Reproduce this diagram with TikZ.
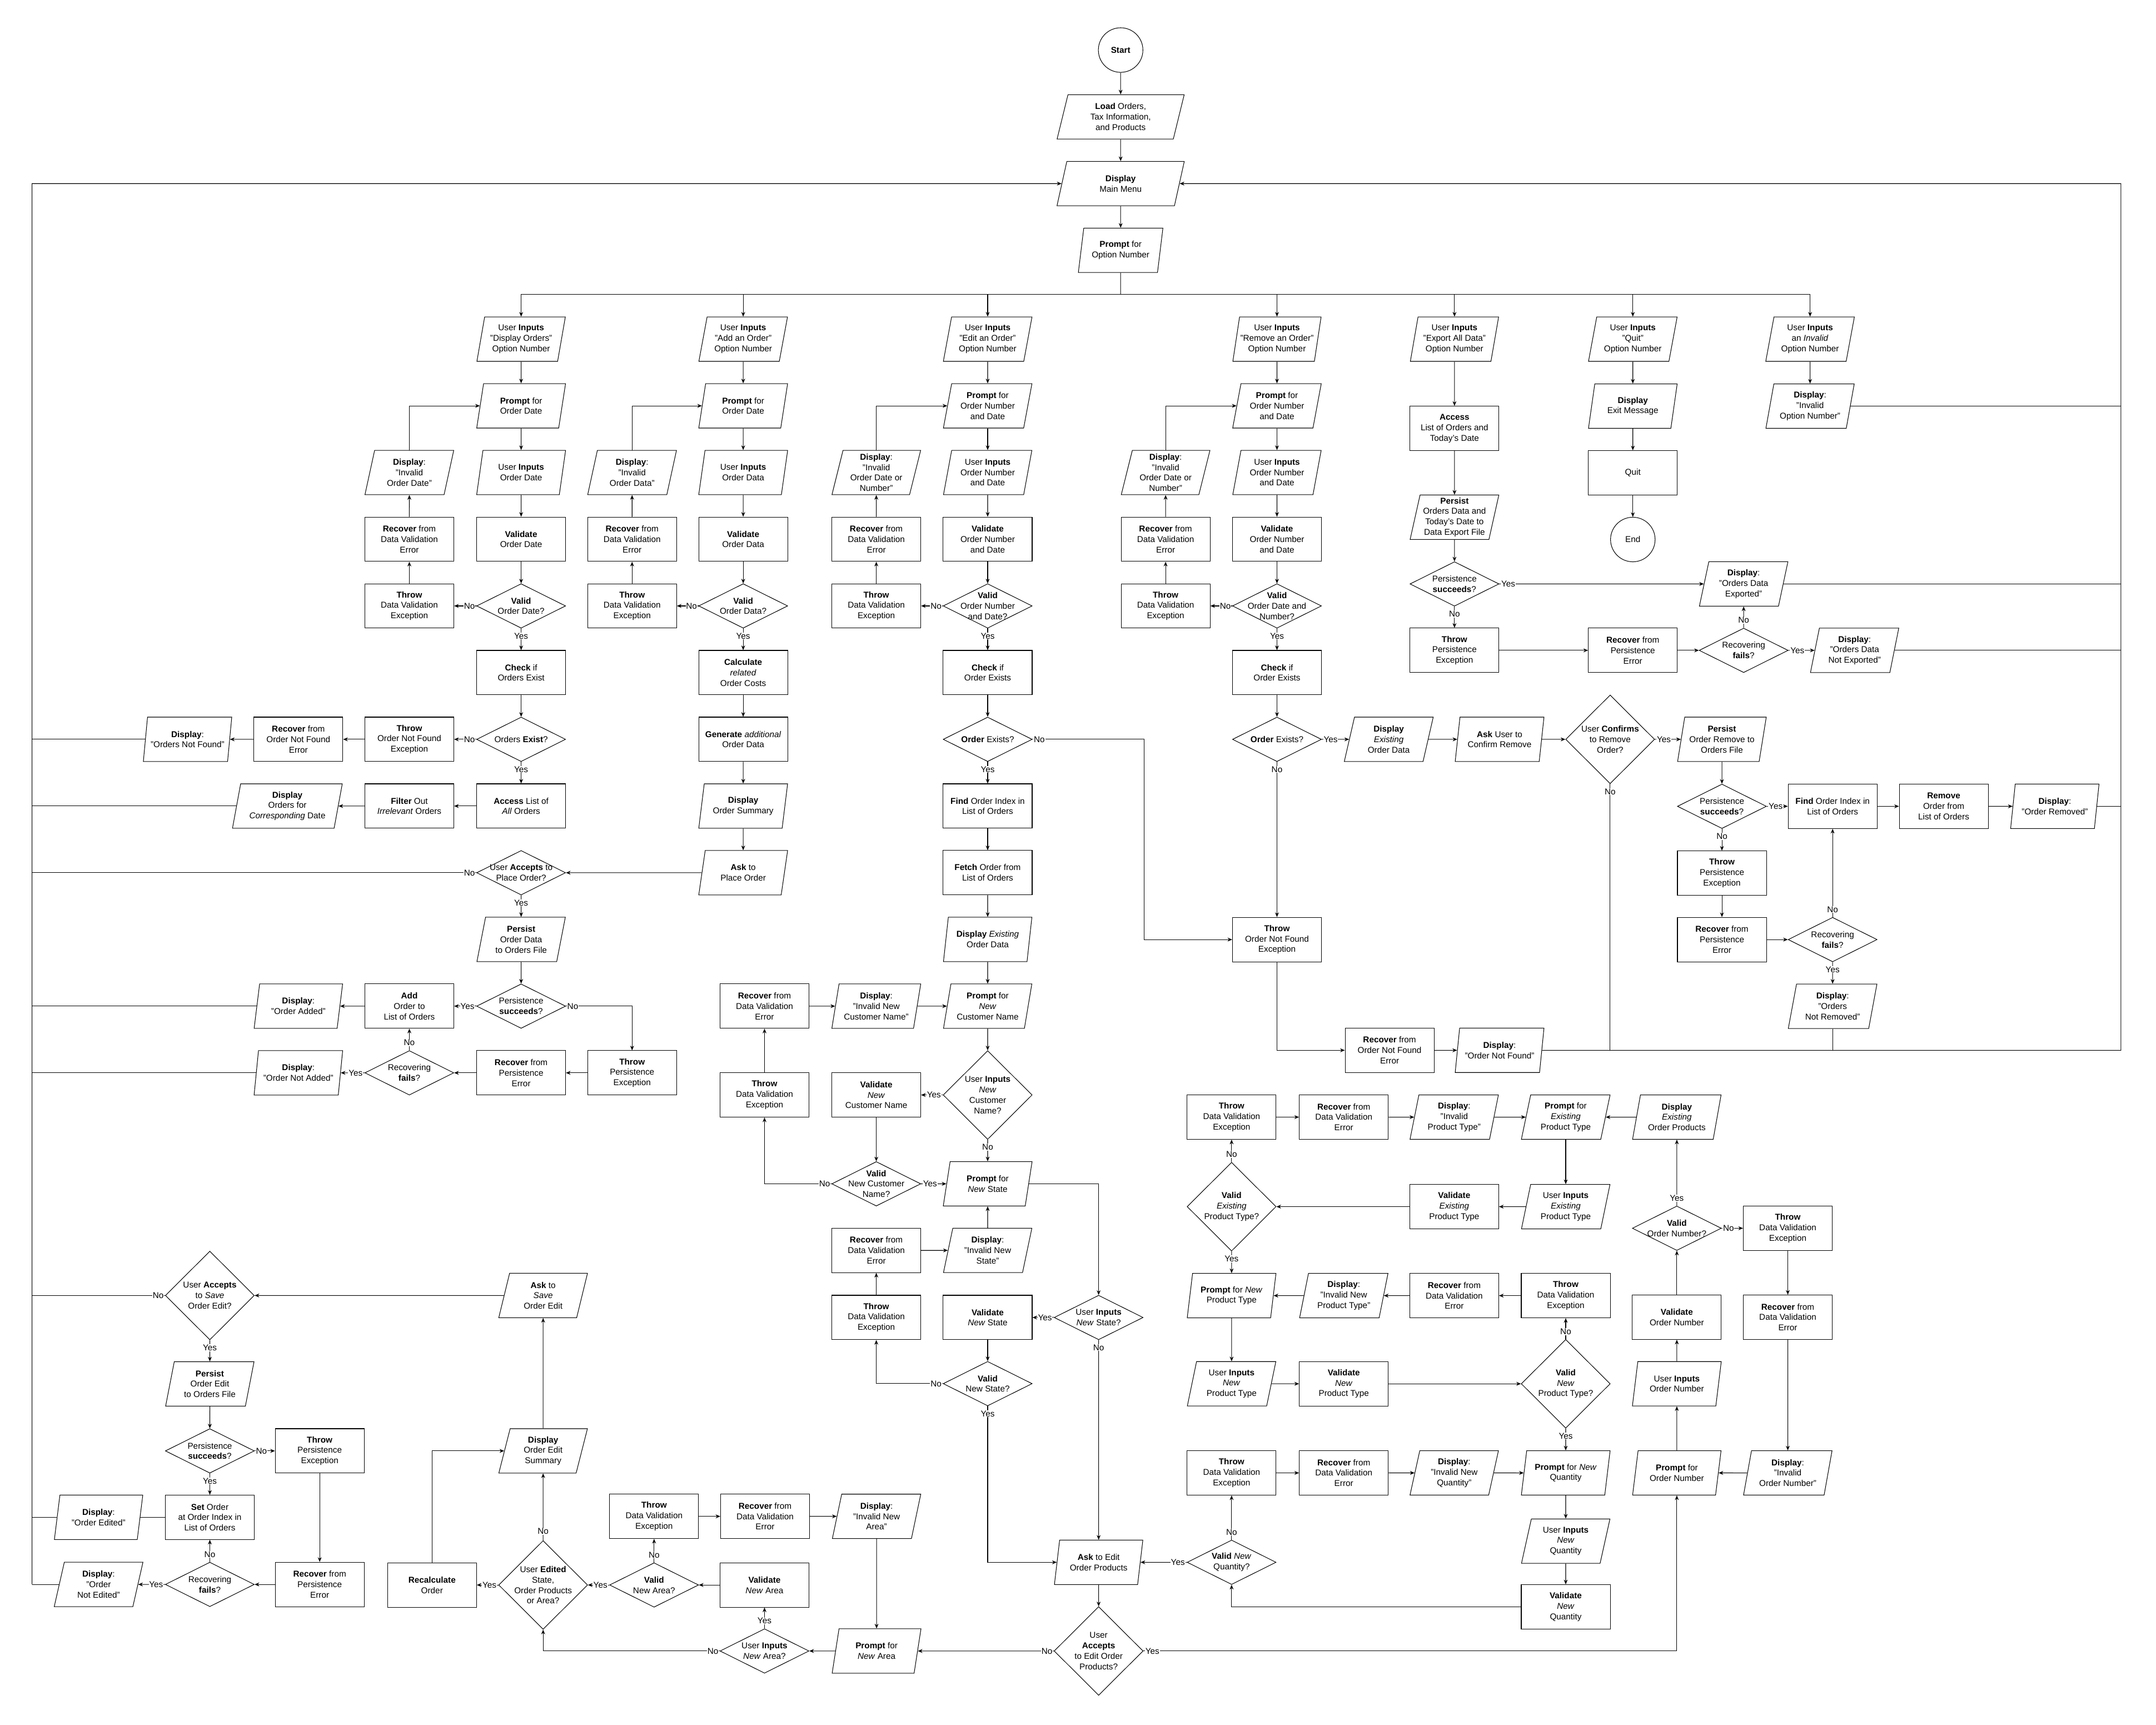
\documentclass[tikz,border=0pt]{standalone}
\usepackage{fontspec}
\setmainfont{Liberation Sans}
\usetikzlibrary{shapes.geometric,arrows.meta,calc}
\newcommand{\mylab}[4]{\node[lbl] (#1) at ($(#2)+(#3)$) {#4};}
\begin{document}
\begin{tikzpicture}[x=0.5mm,y=-0.5mm,
  every node/.style={font=\fontsize{8.8}{10.8}\selectfont, align=center},
  box/.style={rectangle, draw, line width=0.6pt, minimum width=32.35mm, minimum height=16.15mm, inner sep=0pt},
  para/.style={trapezium, trapezium left angle=77, trapezium right angle=103, trapezium stretches=true, draw, line width=0.6pt, minimum width=32.35mm, minimum height=16.15mm, inner sep=0pt},
  dia/.style={diamond, draw, line width=0.6pt, minimum width=32.35mm, minimum height=16.15mm, inner sep=0pt},
  tdia/.style={dia, minimum height=32.25mm},
  term/.style={circle, draw, line width=0.6pt, minimum size=16.2mm, inner sep=0pt},
  ln/.style={line width=0.6pt},
  arr/.style={line width=0.6pt, -{Stealth[length=1.7mm,width=1.4mm]}},
  lbl/.style={fill=white, inner sep=0.5pt},
]
\path[fill=white, use as bounding box] (0,0) rectangle (1568,1254);

% ---------- top ----------
\node[term] (start) at (815,36.4) {\textbf{Start}};
\node[para, minimum width=46.35mm] (load) at (815,85) {\textbf{Load} Orders,\\Tax Information,\\and Products};
\node[para, minimum width=46.35mm] (menu) at (815,133.5) {\textbf{Display}\\Main Menu};
\node[para, minimum width=30.8mm] (prompt) at (815,182) {\textbf{Prompt} for\\Option Number};
\coordinate (bus) at (815,214);
\coordinate (loopL) at (23.3,133.5);
\coordinate (loopR) at (1542.5,133.5);
\coordinate (eNo) at (831.9,537.6);

% ---------- row 0 ----------
\node[para] (d0) at (379,246.6) {User \textbf{Inputs}\\"Display Orders"\\Option Number};
\node[para] (a0) at (540.5,246.6) {User \textbf{Inputs}\\"Add an Order"\\Option Number};
\node[para] (e0) at (718.3,246.6) {User \textbf{Inputs}\\"Edit an Order"\\Option Number};
\node[para] (r0) at (928.7,246.6) {User \textbf{Inputs}\\"Remove an Order"\\Option Number};
\node[para] (x0) at (1057.8,246.6) {User \textbf{Inputs}\\"Export All Data"\\Option Number};
\node[para] (q0) at (1187.5,246.6) {User \textbf{Inputs}\\"Quit"\\Option Number};
\node[para] (i0) at (1316.4,246.6) {User \textbf{Inputs}\\an \textit{Invalid}\\Option Number};

% ---------- display orders ----------
\node[para] (d1) at (379,295.1) {\textbf{Prompt} for\\Order Date};
\node[para] (d2) at (379,343.6) {User \textbf{Inputs}\\Order Date};
\node[box] (d3) at (379,392.1) {\textbf{Validate}\\Order Date};
\node[dia, label={center:{\textbf{Valid}\\Order Date?}}] (d4) at (379,440.6) {};
\node[box] (d5) at (379,489.1) {\textbf{Check} if\\Orders Exist};
\node[dia, label={center:{Orders \textbf{Exist}?}}] (d6) at (379,537.6) {};
\node[box] (d7) at (379,586.1) {\textbf{Access} List of\\\textit{All} Orders};
\node[box] (d4t) at (297.7,440.6) {\textbf{Throw}\\Data Validation\\Exception};
\node[box] (d3r) at (297.7,392.1) {\textbf{Recover} from\\Data Validation\\Error};
\node[para] (d2d) at (297.7,343.6) {\textbf{Display}:\\"Invalid\\Order Date"};
\node[box] (d6t) at (297.7,537.6) {\textbf{Throw}\\Order Not Found\\Exception};
\node[box] (d6r) at (217,537.6) {\textbf{Recover} from\\Order Not Found\\Error};
\node[para] (d6d) at (136.4,537.6) {\textbf{Display}:\\"Orders Not Found"};
\node[box] (d7f) at (297.7,586.1) {\textbf{Filter} Out\\\textit{Irrelevant} Orders};
\node[para, minimum width=40mm] (d7d) at (209,586.1) {\textbf{Display}\\Orders for\\\textit{Corresponding} Date};

% ---------- add order ----------
\node[para] (a1) at (540.5,295.1) {\textbf{Prompt} for\\Order Date};
\node[para] (a2) at (540.5,343.6) {User \textbf{Inputs}\\Order Data};
\node[box] (a3) at (540.5,392.1) {\textbf{Validate}\\Order Data};
\node[dia, label={center:{\textbf{Valid}\\Order Data?}}] (a4) at (540.5,440.6) {};
\node[box] (a5) at (540.5,489.1) {\textbf{Calculate}\\\textit{related}\\Order Costs};
\node[box] (a6) at (540.5,537.6) {\textbf{Generate} \textit{additional}\\Order Data};
\node[para] (a7) at (540.5,586.1) {\textbf{Display}\\Order Summary};
\node[para] (a8) at (540.5,634.6) {\textbf{Ask} to\\Place Order};
\node[box] (a4t) at (459.7,440.6) {\textbf{Throw}\\Data Validation\\Exception};
\node[box] (a3r) at (459.7,392.1) {\textbf{Recover} from\\Data Validation\\Error};
\node[para] (a2d) at (459.7,343.6) {\textbf{Display}:\\"Invalid\\Order Data"};
\node[dia, label={center:{User \textbf{Accepts} to\\Place Order?}}] (a8d) at (379,634.6) {};
\node[para] (a9) at (379,683.1) {\textbf{Persist}\\Order Data\\to Orders File};
\node[dia, label={center:{Persistence\\\textbf{succeeds}?}}] (a10) at (379,731.6) {};
\node[box] (a10y) at (297.7,731.6) {\textbf{Add}\\Order to\\List of Orders};
\node[para] (a10yd) at (217,731.6) {\textbf{Display}:\\"Order Added"};
\node[box] (a10t) at (459.7,780.1) {\textbf{Throw}\\Persistence\\Exception};
\node[box] (a11r) at (379,780.1) {\textbf{Recover} from\\Persistence\\Error};
\node[dia, label={center:{Recovering\\\textbf{fails}?}}] (a11f) at (297.7,780.1) {};
\node[para] (a11d) at (217,780.1) {\textbf{Display}:\\"Order Not Added"};

% ---------- edit order ----------
\node[para] (e1) at (718.3,295.1) {\textbf{Prompt} for\\Order Number\\and Date};
\node[para] (e2) at (718.3,343.6) {User \textbf{Inputs}\\Order Number\\and Date};
\node[box] (e3) at (718.3,392.1) {\textbf{Validate}\\Order Number\\and Date};
\node[dia, label={center:{\textbf{Valid}\\Order Number\\and Date?}}] (e4) at (718.3,440.6) {};
\node[box] (e4t) at (637.3,440.6) {\textbf{Throw}\\Data Validation\\Exception};
\node[box] (e3r) at (637.3,392.1) {\textbf{Recover} from\\Data Validation\\Error};
\node[para] (e2d) at (637.3,343.6) {\textbf{Display}:\\"Invalid\\Order Date or\\Number"};
\node[box] (e5) at (718.3,489.1) {\textbf{Check} if\\Order Exists};
\node[dia, label={center:{\textbf{Order} Exists?}}] (e6) at (718.3,537.6) {};
\node[box] (e7) at (718.3,586.1) {\textbf{Find} Order Index in\\List of Orders};
\node[box] (e8) at (718.3,634.6) {\textbf{Fetch} Order from\\List of Orders};
\node[para] (e9) at (718.3,683.1) {\textbf{Display} \textit{Existing}\\Order Data};
\node[para] (e10) at (718.3,731.6) {\textbf{Prompt} for\\\textit{New}\\Customer Name};
\node[tdia, label={center:{User \textbf{Inputs}\\\textit{New}\\Customer\\Name?}}] (e11) at (718.3,796.2) {};
\node[box] (e12) at (637.3,796.2) {\textbf{Validate}\\\textit{New}\\Customer Name};
\node[box] (e12t) at (556,796.2) {\textbf{Throw}\\Data Validation\\Exception};
\node[box] (e12r) at (556,731.6) {\textbf{Recover} from\\Data Validation\\Error};
\node[para] (e12d) at (637.3,731.6) {\textbf{Display}:\\"Invalid New\\Customer Name"};
\node[dia, label={center:{\textbf{Valid}\\New Customer\\Name?}}] (e13) at (637.3,860.8) {};
\node[para] (e14) at (718.3,860.8) {\textbf{Prompt} for\\\textit{New} State};
\node[para] (e14d) at (718.3,909.2) {\textbf{Display}:\\"Invalid New\\State"};
\node[box] (e14r) at (637.3,909.2) {\textbf{Recover} from\\Data Validation\\Error};
\node[box] (e14t) at (637.3,958) {\textbf{Throw}\\Data Validation\\Exception};
\node[box] (e15) at (718.3,958) {\textbf{Validate}\\\textit{New} State};
\node[dia, label={center:{User \textbf{Inputs}\\\textit{New} State?}}] (e16) at (799,958) {};
\node[dia, label={center:{\textbf{Valid}\\New State?}}] (e17) at (718.3,1006.1) {};
\node[para] (e18) at (799,1136) {\textbf{Ask} to Edit\\Order Products};
\node[tdia, label={center:{User\\\textbf{Accepts}\\to Edit Order\\Products?}}] (e19) at (799,1200.5) {};
\node[para] (e20) at (637.5,1200.5) {\textbf{Prompt} for\\\textit{New} Area};
\node[dia, label={center:{User \textbf{Inputs}\\\textit{New} Area?}}] (e21) at (556,1200.5) {};
\node[box] (e22) at (556,1152.5) {\textbf{Validate}\\\textit{New} Area};
\node[dia, label={center:{\textbf{Valid}\\New Area?}}] (e23) at (475.7,1152.5) {};
\node[box] (e23t) at (475.7,1102.6) {\textbf{Throw}\\Data Validation\\Exception};
\node[box] (e23r) at (556.4,1102.6) {\textbf{Recover} from\\Data Validation\\Error};
\node[para] (e23d) at (637.5,1102.6) {\textbf{Display}:\\"Invalid New\\Area"};
\node[tdia, label={center:{User \textbf{Edited}\\State,\\Order Products\\or Area?}}] (e24) at (395,1152.5) {};
\node[box] (e25) at (314.2,1152.5) {\textbf{Recalculate}\\Order};
\node[para] (e26) at (395,1055) {\textbf{Display}\\Order Edit\\Summary};
\node[para] (e27) at (395,942) {\textbf{Ask} to\\\textit{Save}\\Order Edit};
\node[tdia, label={center:{User \textbf{Accepts}\\to \textit{Save}\\Order Edit?}}] (e28) at (152.6,942) {};
\node[para] (e29) at (152.6,1006.3) {\textbf{Persist}\\Order Edit\\to Orders File};
\node[dia, label={center:{Persistence\\\textbf{succeeds}?}}] (e30) at (152.6,1055) {};
\node[box] (e30t) at (232.5,1055) {\textbf{Throw}\\Persistence\\Exception};
\node[box] (e31) at (152.6,1103.3) {\textbf{Set} Order\\at Order Index in\\List of Orders};
\node[para] (e31d) at (71.7,1103.3) {\textbf{Display}:\\"Order Edited"};
\node[dia, label={center:{Recovering\\\textbf{fails}?}}] (e32) at (152.6,1152.1) {};
\node[para] (e32d) at (71.7,1152.1) {\textbf{Display}:\\"Order\\Not Edited"};
\node[box] (e32r) at (232.5,1152.1) {\textbf{Recover} from\\Persistence\\Error};

% ---------- remove order ----------
\node[para] (r1) at (928.7,295.1) {\textbf{Prompt} for\\Order Number\\and Date};
\node[para] (r2) at (928.7,343.6) {User \textbf{Inputs}\\Order Number\\and Date};
\node[box] (r3) at (928.7,392.1) {\textbf{Validate}\\Order Number\\and Date};
\node[dia, label={center:{\textbf{Valid}\\Order Date and\\Number?}}] (r4) at (928.7,440.6) {};
\node[box] (r4t) at (847.7,440.6) {\textbf{Throw}\\Data Validation\\Exception};
\node[box] (r3r) at (847.7,392.1) {\textbf{Recover} from\\Data Validation\\Error};
\node[para] (r2d) at (847.7,343.6) {\textbf{Display}:\\"Invalid\\Order Date or\\Number"};
\node[box] (r5) at (928.7,489.1) {\textbf{Check} if\\Order Exists};
\node[dia, label={center:{\textbf{Order} Exists?}}] (r6) at (928.7,537.6) {};
\node[para] (r6d) at (1010,537.6) {\textbf{Display}\\\textit{Existing}\\Order Data};
\node[para] (r7) at (1090.6,537.6) {\textbf{Ask} User to\\Confirm Remove};
\node[tdia, label={center:{User \textbf{Confirms}\\to Remove\\Order?}}] (r8) at (1171,537.6) {};
\node[para] (r9) at (1252.3,537.6) {\textbf{Persist}\\Order Remove to\\Orders File};
\node[dia, label={center:{Persistence\\\textbf{succeeds}?}}] (r10) at (1252.3,586.3) {};
\node[box] (r11) at (1332.8,586.3) {\textbf{Find} Order Index in\\List of Orders};
\node[box] (r12) at (1413.6,586.3) {\textbf{Remove}\\Order from\\List of Orders};
\node[para] (r13) at (1494.4,586.3) {\textbf{Display}:\\"Order Removed"};
\node[box] (r10t) at (1252.3,634.9) {\textbf{Throw}\\Persistence\\Exception};
\node[box] (r10r) at (1252.3,683.2) {\textbf{Recover} from\\Persistence\\Error};
\node[dia, label={center:{Recovering\\\textbf{fails}?}}] (r10f) at (1332.8,683.2) {};
\node[para] (r10d) at (1332.8,731.7) {\textbf{Display}:\\"Orders\\Not Removed"};
\node[box] (r14) at (928.7,683.2) {\textbf{Throw}\\Order Not Found\\Exception};
\node[box] (r15) at (1010.6,763.7) {\textbf{Recover} from\\Order Not Found\\Error};
\node[para] (r16) at (1090.6,763.7) {\textbf{Display}:\\"Order Not Found"};

% ---------- export ----------
\node[box] (x1) at (1057.8,311.5) {\textbf{Access}\\List of Orders and\\Today's Date};
\node[para] (x2) at (1057.8,376.1) {\textbf{Persist}\\Orders Data and\\Today's Date to\\Data Export File};
\node[dia, label={center:{Persistence\\\textbf{succeeds}?}}] (x3) at (1057.8,424.6) {};
\node[para] (x3d) at (1268.1,424.6) {\textbf{Display}:\\"Orders Data\\Exported"};
\node[box] (x3t) at (1057.8,472.9) {\textbf{Throw}\\Persistence\\Exception};
\node[box] (x3r) at (1187.5,472.9) {\textbf{Recover} from\\Persistence\\Error};
\node[dia, label={center:{Recovering\\\textbf{fails}?}}] (x3f) at (1268.1,472.9) {};
\node[para] (x3n) at (1348.8,472.9) {\textbf{Display}:\\"Orders Data\\Not Exported"};

% ---------- quit / invalid ----------
\node[para] (q1) at (1187.5,295.3) {\textbf{Display}\\Exit Message};
\node[box] (q2) at (1187.5,343.8) {Quit};
\node[term] (q3) at (1187.5,392.3) {End};
\node[para] (i1) at (1316.4,295.3) {\textbf{Display}:\\"Invalid\\Option Number"};

% ---------- products ----------
\node[para] (p1) at (1219.5,1071) {\textbf{Prompt} for\\Order Number};
\node[para] (p2) at (1219.5,1006.2) {User \textbf{Inputs}\\Order Number};
\node[box] (p3) at (1219.5,957.8) {\textbf{Validate}\\Order Number};
\node[dia, label={center:{\textbf{Valid}\\Order Number?}}] (p4) at (1219.5,893.1) {};
\node[box] (p4t) at (1300.2,893.1) {\textbf{Throw}\\Data Validation\\Exception};
\node[box] (p4r) at (1300.2,957.8) {\textbf{Recover} from\\Data Validation\\Error};
\node[para] (p4d) at (1300.2,1071) {\textbf{Display}:\\"Invalid\\Order Number"};
\node[para] (p5) at (1219.5,812.3) {\textbf{Display}\\\textit{Existing}\\Order Products};
\node[para] (p6) at (1138.7,812.3) {\textbf{Prompt} for\\\textit{Existing}\\Product Type};
\node[para] (p7) at (1138.7,877.4) {User \textbf{Inputs}\\\textit{Existing}\\Product Type};
\node[box] (p8) at (1057.6,877.4) {\textbf{Validate}\\\textit{Existing}\\Product Type};
\node[tdia, label={center:{\textbf{Valid}\\\textit{Existing}\\Product Type?}}] (p9) at (895.7,877.4) {};
\node[box] (p9t) at (895.7,812.3) {\textbf{Throw}\\Data Validation\\Exception};
\node[box] (p9r) at (977.3,812.3) {\textbf{Recover} from\\Data Validation\\Error};
\node[para] (p9d) at (1057.6,812.3) {\textbf{Display}:\\"Invalid\\Product Type"};
\node[para] (p10) at (895.7,942.1) {\textbf{Prompt} for \textit{New}\\Product Type};
\node[para] (p11) at (895.7,1006.2) {User \textbf{Inputs}\\\textit{New}\\Product Type};
\node[box] (p12) at (977.3,1006.2) {\textbf{Validate}\\\textit{New}\\Product Type};
\node[tdia, label={center:{\textbf{Valid}\\\textit{New}\\Product Type?}}] (p13) at (1138.7,1006.2) {};
\node[box] (p13t) at (1138.7,942.1) {\textbf{Throw}\\Data Validation\\Exception};
\node[box] (p13r) at (1057.6,942.1) {\textbf{Recover} from\\Data Validation\\Error};
\node[para] (p13d) at (977.3,942.1) {\textbf{Display}:\\"Invalid New\\Product Type"};
\node[para] (p14) at (1138.7,1071) {\textbf{Prompt} for \textit{New}\\Quantity};
\node[para] (p15) at (1138.7,1120.6) {User \textbf{Inputs}\\\textit{New}\\Quantity};
\node[box] (p16) at (1138.7,1168.4) {\textbf{Validate}\\\textit{New}\\Quantity};
\node[dia, label={center:{\textbf{Valid} \textit{New}\\Quantity?}}] (p17) at (895.7,1136) {};
\node[box] (p17t) at (895.7,1071) {\textbf{Throw}\\Data Validation\\Exception};
\node[box] (p17r) at (977.3,1071) {\textbf{Recover} from\\Data Validation\\Error};
\node[para] (p17d) at (1057.6,1071) {\textbf{Display}:\\"Invalid New\\Quantity"};

% ---------- connectors ----------
\draw[arr] (start.south) -- (load.north);
\draw[arr] (load.south) -- (menu.north);
\draw[arr] (menu.south) -- (prompt.north);
\draw[ln] (prompt.south) -- (bus);
\draw[ln] (d0.north |- bus) -- (i0.north |- bus);
\foreach \n in {d0,a0,e0,r0,x0,q0,i0} {\draw[arr] (\n.north |- bus) -- (\n.north);}

\foreach \a/\b in {d0/d1,d1/d2,d2/d3,d3/d4,d4/d5,d5/d6,d6/d7,
  a0/a1,a1/a2,a2/a3,a3/a4,a4/a5,a5/a6,a6/a7,a7/a8,a8d/a9,a9/a10,
  e0/e1,e1/e2,e2/e3,e3/e4,e4/e5,e5/e6,e6/e7,e7/e8,e8/e9,e9/e10,e10/e11,e11/e14,e12/e13,
  e15/e17,e16/e18,e18/e19,e23d/e20,e28/e29,e29/e30,e30/e31,e30t/e32r,
  r0/r1,r1/r2,r2/r3,r3/r4,r4/r5,r5/r6,r6/r14,r9/r10,r10/r10t,r10t/r10r,r10f/r10d,
  x0/x1,x1/x2,x2/x3,x3/x3t,q0/q1,q1/q2,q2/q3,i0/i1,
  p6/p7,p9/p10,p10/p11,p13/p14,p14/p15,p15/p16,p4t/p4r,p4r/p4d}
  {\draw[arr] (\a.south) -- (\b.north);}

\foreach \a/\b in {d4t/d3r,d3r/d2d,a4t/a3r,a3r/a2d,e4t/e3r,e3r/e2d,r4t/r3r,r3r/r2d,
  a11f/a10y,e12t/e12r,e14t/e14r,e14d/e14,e21/e22,e23/e23t,e24/e26,e26/e27,e32/e31,
  r10f/r11,x3f/x3d,p1/p2,p2/p3,p3/p4,p4/p5,p9/p9t,p13/p13t,p17/p17t}
  {\draw[arr] (\a.north) -- (\b.south);}

\foreach \a/\b in {d4/d4t,d6/d6t,d6t/d6r,d6r/d6d,d7/d7f,d7f/d7d,
  a4/a4t,a8/a8d,a10/a10y,a10y/a10yd,a10t/a11r,a11r/a11f,a11f/a11d,
  e4/e4t,e11/e12,e16/e15,e19/e20,e20/e21,e22/e23,e23/e24,e24/e25,e27/e28,e32r/e32,e32/e32d,
  r4/r4t,p7/p8,p8/p9,p5/p6,p4d/p1,p13t/p13r,p13r/p13d,p13d/p10,p17/e18}
  {\draw[arr] (\a.west) -- (\b.east);}

\foreach \a/\b in {e12r/e12d,e12d/e10,e13/e14,e14r/e14d,e23t/e23r,e23r/e23d,e30/e30t,
  r6/r6d,r6d/r7,r7/r8,r8/r9,r10/r11,r11/r12,r12/r13,r10r/r10f,r15/r16,
  x3/x3d,x3t/x3r,x3r/x3f,x3f/x3n,
  p4/p4t,p9t/p9r,p9r/p9d,p9d/p6,p11/p12,p12/p13,p17t/p17r,p17r/p17d,p17d/p14}
  {\draw[arr] (\a.east) -- (\b.west);}

\draw[ln] (e31.west) -- (e31d.east);
\draw[arr] (d2d.north) |- (d1.west);
\draw[arr] (a2d.north) |- (a1.west);
\draw[arr] (e2d.north) |- (e1.west);
\draw[arr] (r2d.north) |- (r1.west);
\draw[arr] (a10.east) -| (a10t.north);
\draw[arr] (e6.east) -- (eNo) |- (r14.west);
\draw[arr] (e13.west) -| (e12t.south);
\draw[arr] (e14.east) -| (e16.north);
\draw[arr] (e17.west) -| (e14t.south);
\draw[arr] (e17.south) |- (e18.west);
\draw[arr] (e19.east) -| (p1.south);
\draw[arr] (e21.west) -| (e24.south);
\draw[arr] (e25.north) |- (e26.west);
\draw[arr] (r14.south) |- (r15.west);
\draw[arr] (p16.west) -| (p17.south);

% loops
\draw[ln] (d6d.west) -- (d6d.west -| loopL);
\draw[ln] (d7d.west) -- (d7d.west -| loopL);
\draw[ln] (a8d.west) -- (a8d.west -| loopL);
\draw[ln] (a10yd.west) -- (a10yd.west -| loopL);
\draw[ln] (a11d.west) -- (a11d.west -| loopL);
\draw[ln] (e28.west) -- (e28.west -| loopL);
\draw[ln] (e31d.west) -- (e31d.west -| loopL);
\draw[ln] (e32d.west) -- (e32d.west -| loopL);
\draw[arr] (e32d.west -| loopL) -- (loopL) -- (menu.west);
\draw[ln] (i1.east) -- (i1.east -| loopR);
\draw[ln] (x3d.east) -- (x3d.east -| loopR);
\draw[ln] (x3n.east) -- (x3n.east -| loopR);
\draw[ln] (r13.east) -- (r13.east -| loopR);
\draw[ln] (r8.south) -- (r8.south |- r16.east);
\draw[ln] (r10d.south) -- (r10d.south |- r16.east);
\draw[arr] (r16.east) -- (r16.east -| loopR) -- (loopR) -- (menu.east);

% ---------- labels ----------
\mylab{l1}{d4.west}{-5,0}{No}
\mylab{l2}{d4.south}{0,5.5}{Yes}
\mylab{l3}{d6.west}{-5,0}{No}
\mylab{l4}{d6.south}{0,5.5}{Yes}
\mylab{l5}{a4.west}{-5,0}{No}
\mylab{l6}{a4.south}{0,5.5}{Yes}
\mylab{l7}{a8d.west}{-5,0}{No}
\mylab{l8}{a8d.south}{0,5.5}{Yes}
\mylab{l9}{a10.west}{-6.5,0}{Yes}
\mylab{l10}{a10.east}{5,0}{No}
\mylab{l11}{a11f.north}{0,-5.5}{No}
\mylab{l12}{a11f.west}{-6.5,0}{Yes}
\mylab{l13}{e4.west}{-5,0}{No}
\mylab{l14}{e4.south}{0,5.5}{Yes}
\mylab{l15}{e6.east}{5,0}{No}
\mylab{l16}{e6.south}{0,5.5}{Yes}
\mylab{l17}{e11.west}{-6.5,0}{Yes}
\mylab{l18}{e11.south}{0,5.5}{No}
\mylab{l19}{e13.west}{-5,0}{No}
\mylab{l20}{e13.east}{6.5,0}{Yes}
\mylab{l21}{e16.west}{-6.5,0}{Yes}
\mylab{l22}{e16.south}{0,5.5}{No}
\mylab{l23}{e17.west}{-5,0}{No}
\mylab{l24}{e17.south}{0,5.5}{Yes}
\mylab{l25}{e19.east}{6.5,0}{Yes}
\mylab{l26}{e19.west}{-5,0}{No}
\mylab{l27}{e21.north}{0,-5.5}{Yes}
\mylab{l28}{e21.west}{-5,0}{No}
\mylab{l29}{e23.west}{-6.5,0}{Yes}
\mylab{l30}{e23.north}{0,-5.5}{No}
\mylab{l31}{e24.west}{-6.5,0}{Yes}
\mylab{l32}{e24.north}{0,-6.5}{No}
\mylab{l33}{e28.west}{-5,0}{No}
\mylab{l34}{e28.south}{0,5.5}{Yes}
\mylab{l35}{e30.east}{5,0}{No}
\mylab{l36}{e30.south}{0,5.5}{Yes}
\mylab{l37}{e32.north}{0,-5.5}{No}
\mylab{l38}{e32.west}{-6.5,0}{Yes}
\mylab{l39}{r4.west}{-5,0}{No}
\mylab{l40}{r4.south}{0,5.5}{Yes}
\mylab{l41}{r6.east}{6.5,0}{Yes}
\mylab{l42}{r6.south}{0,5.5}{No}
\mylab{l43}{r8.east}{6.5,0}{Yes}
\mylab{l44}{r8.south}{0,5.5}{No}
\mylab{l45}{r10.east}{6.5,0}{Yes}
\mylab{l46}{r10.south}{0,5.5}{No}
\mylab{l47}{r10f.north}{0,-5.5}{No}
\mylab{l48}{r10f.south}{0,5.5}{Yes}
\mylab{l49}{x3.east}{6.5,0}{Yes}
\mylab{l50}{x3.south}{0,5.5}{No}
\mylab{l51}{x3f.north}{0,-5.5}{No}
\mylab{l52}{x3f.east}{6.5,0}{Yes}
\mylab{l53}{p4.east}{5,0}{No}
\mylab{l54}{p4.north}{0,-5.5}{Yes}
\mylab{l55}{p9.north}{0,-5.5}{No}
\mylab{l56}{p9.south}{0,5.5}{Yes}
\mylab{l57}{p13.north}{0,-5.5}{No}
\mylab{l58}{p13.south}{0,5.5}{Yes}
\mylab{l59}{p17.north}{0,-5.5}{No}
\mylab{l60}{p17.west}{-6.5,0}{Yes}
\end{tikzpicture}
\end{document}
